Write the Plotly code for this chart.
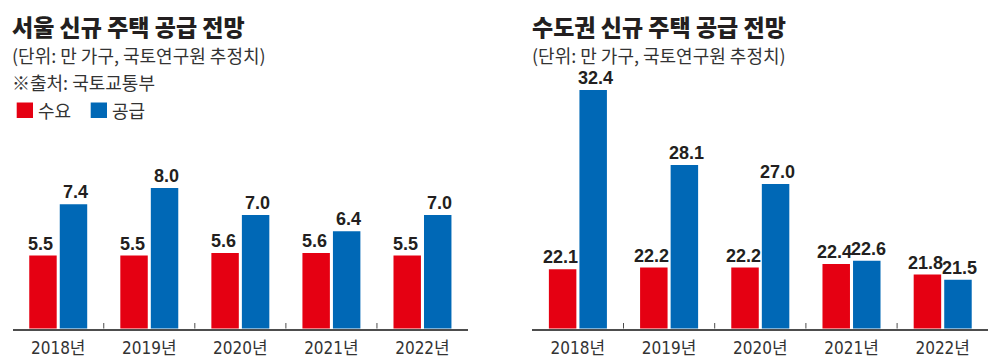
import plotly.graph_objects as go

years = ["2018년", "2019년", "2020년", "2021년", "2022년"]
seoul_demand = [5.5, 5.5, 5.6, 5.6, 5.5]
seoul_supply = [7.4, 8.0, 7.0, 6.4, 7.0]
metro_demand = [22.1, 22.2, 22.2, 22.4, 21.8]
metro_supply = [32.4, 28.1, 27.0, 22.6, 21.5]

RED = "#e50012"
BLUE = "#0068b6"
# the page body has an 8px margin: figure is drawn 8px in from the window edge
OFF = 8
W, H = 1000 - OFF, 362 - OFF
NUM_FONT = dict(family="Liberation Sans, Arial, sans-serif", size=18, color="#231f20", weight="bold")
TICK_FONT = dict(family="DejaVu Sans Condensed, Noto Sans CJK KR, sans-serif", size=17, color="#333333")
KR = "Noto Sans CJK KR"


def px(X):
    return (X - OFF) / W


def py(Y):
    return 1 - (Y - OFF) / H


fig = go.Figure()

BARGAP, GROUPGAP = 0.33, 0.1
for demand, supply, xa, ya in ((seoul_demand, seoul_supply, "x", "y"),
                               (metro_demand, metro_supply, "x2", "y2")):
    for name, vals, col in (("수요", demand, RED), ("공급", supply, BLUE)):
        fig.add_trace(go.Bar(
            x=years, y=vals, name=name, marker=dict(color=col, line=dict(width=0)),
            showlegend=False, xaxis=xa, yaxis=ya, hoverinfo="skip"))

axis_Y = 328.5
plot_h = axis_Y - OFF
ydom = [py(axis_Y), 1]

xcommon = dict(type="category", showline=True, linecolor="#4d4d4d", linewidth=1.5,
               ticks="", showgrid=False, zeroline=False, tickfont=TICK_FONT,
               ticklabelstandoff=3, fixedrange=True)
ycommon = dict(visible=False, showgrid=False, zeroline=False, domain=ydom, fixedrange=True)

lb, ls = 2.8, 27.0     # left: baseline value, px per unit
rb, rs = 18.7, 17.4    # right

xd1 = [px(12.7), px(468)]
xd2 = [px(532.3), px(988.3)]

fig.update_layout(
    width=W, height=H,
    margin=dict(l=0, r=0, t=0, b=0),
    paper_bgcolor="white", plot_bgcolor="white",
    barmode="group", bargap=BARGAP, bargroupgap=GROUPGAP,
    xaxis=dict(domain=xd1, anchor="y", **xcommon),
    yaxis=dict(range=[lb, lb + plot_h / ls], anchor="x", **ycommon),
    xaxis2=dict(domain=xd2, anchor="y2", **xcommon),
    yaxis2=dict(range=[rb, rb + plot_h / rs], anchor="x2", **ycommon),
    showlegend=False,
)

# value labels placed at each bar through the axes' scales
for demand, supply, xa, ya, dom in ((seoul_demand, seoul_supply, "x", "y", xd1),
                                    (metro_demand, metro_supply, "x2", "y2", xd2)):
    cat_px = (dom[1] - dom[0]) * W / len(years)
    half = cat_px * (1 - BARGAP) / 4
    for vals, sgn in ((demand, -1), (supply, 1)):
        for cat, v in zip(years, vals):
            fig.add_annotation(x=cat, y=v, xref=xa, yref=ya, text=f"{v:.1f}",
                               showarrow=False, xanchor="center", yanchor="bottom",
                               xshift=sgn * (half + 2), yshift=0, font=NUM_FONT)

# separator ticks between categories
for xr, yr in (("x", "y domain"), ("x2", "y2 domain")):
    for i in range(len(years) - 1):
        fig.add_shape(type="line", xref=xr, yref=yr, x0=i + 0.5, x1=i + 0.5,
                      y0=0, y1=5.5 / plot_h, line=dict(color="#4d4d4d", width=1))


def ann(text, X, Y, size, color="#231f20", weight="normal"):
    fig.add_annotation(text=text, xref="paper", yref="paper", x=px(X), y=py(Y),
                       xanchor="left", yanchor="middle", showarrow=False, borderpad=0,
                       font=dict(family=KR, size=size, color=color, weight=weight))


ann("서울 신규 주택 공급 전망", 11, 25.5, 23, "#231f20", 900)
ann("(단위: 만 가구, 국토연구원 추정치)", 11, 55.3, 18, "#333333")
ann("※출처: 국토교통부", 11, 81.5, 18, "#333333")
ann("수요", 37, 110, 18, "#333333")
ann("공급", 111, 110, 18, "#333333")
ann("수도권 신규 주택 공급 전망", 531, 25.5, 23, "#231f20", 900)
ann("(단위: 만 가구, 국토연구원 추정치)", 531, 55.3, 18, "#333333")

# legend swatches
for X0, col in ((16.7, RED), (90.7, BLUE)):
    fig.add_shape(type="rect", xref="paper", yref="paper",
                  x0=px(X0), x1=px(X0 + 16.3), y0=py(118), y1=py(102.5),
                  fillcolor=col, line=dict(width=0))

fig.write_html("out.html")
